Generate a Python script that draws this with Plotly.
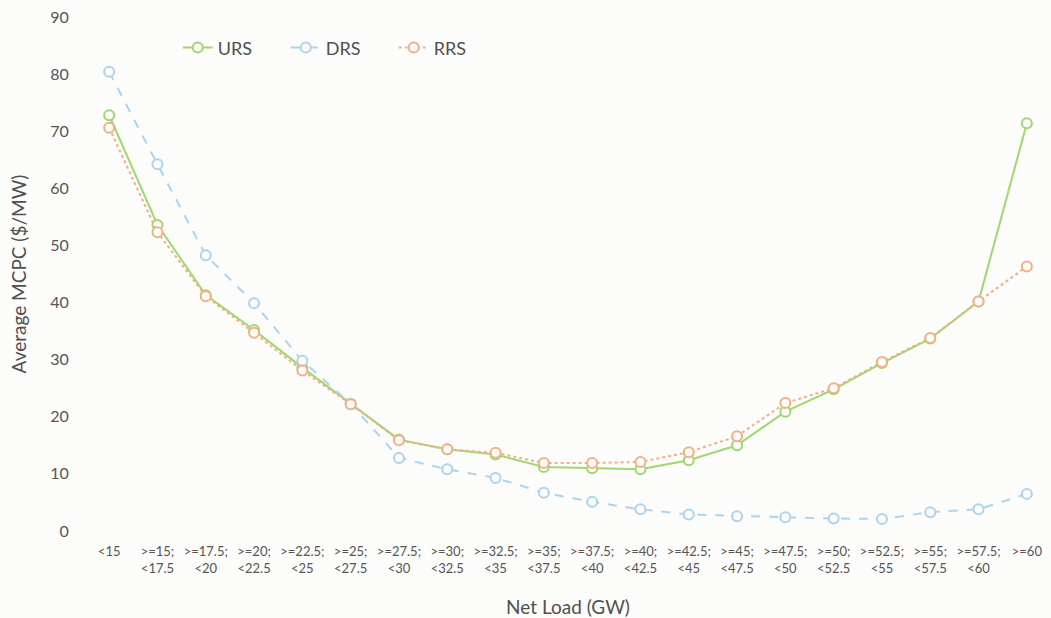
import plotly.graph_objects as go

categories = ["&lt;15", "&gt;=15;<br>&lt;17.5", "&gt;=17.5;<br>&lt;20", "&gt;=20;<br>&lt;22.5",
              "&gt;=22.5;<br>&lt;25", "&gt;=25;<br>&lt;27.5", "&gt;=27.5;<br>&lt;30", "&gt;=30;<br>&lt;32.5",
              "&gt;=32.5;<br>&lt;35", "&gt;=35;<br>&lt;37.5", "&gt;=37.5;<br>&lt;40", "&gt;=40;<br>&lt;42.5",
              "&gt;=42.5;<br>&lt;45", "&gt;=45;<br>&lt;47.5", "&gt;=47.5;<br>&lt;50", "&gt;=50;<br>&lt;52.5",
              "&gt;=52.5;<br>&lt;55", "&gt;=55;<br>&lt;57.5", "&gt;=57.5;<br>&lt;60", "&gt;=60"]

urs = [72.8, 53.6, 41.3, 35.2, 28.6, 22.3, 16.0, 14.3, 13.4, 11.2, 11.0, 10.8, 12.4, 15.0, 20.9, 24.8, 29.4, 33.7, 40.2, 71.4]
drs = [80.4, 64.2, 48.3, 39.9, 29.8, 22.3, 12.8, 10.8, 9.3, 6.7, 5.1, 3.8, 2.9, 2.6, 2.4, 2.2, 2.1, 3.3, 3.8, 6.5]
rrs = [70.6, 52.3, 41.1, 34.7, 28.1, 22.2, 15.9, 14.3, 13.7, 11.9, 11.9, 12.1, 13.8, 16.6, 22.4, 25.0, 29.6, 33.8, 40.2, 46.3]

y_ticks = [0, 10, 20, 30, 40, 50, 60, 70, 80, 90]

GREEN = "#9ed870"
BLUE = "#abd4ee"
ORANGE = "#f3b085"
BG = "#fcfcfa"
FONT = "Lato"
TXT = "#555555"

fig = go.Figure()
series = [("URS", urs, GREEN, "solid"), ("DRS", drs, BLUE, "dash"), ("RRS", rrs, ORANGE, "dot")]
for name, vals, col, dash in series:
    fig.add_trace(go.Scatter(
        x=categories, y=vals, name=name, mode="lines+markers",
        line=dict(color=col, width=2, dash=dash),
        marker=dict(symbol="circle", size=10, color=BG, line=dict(width=2, color=col)),
    ))

fig.update_layout(
    width=1051, height=618,
    paper_bgcolor=BG, plot_bgcolor=BG,
    margin=dict(l=85, r=0, t=17, b=87),
    font=dict(family=FONT, color=TXT),
    showlegend=True,
    legend=dict(orientation="h", x=0.096, y=0.94, xanchor="left", yanchor="middle",
                font=dict(size=18, color="#505050"), bgcolor="rgba(0,0,0,0)",
                entrywidth=63, entrywidthmode="pixels"),
)
fig.update_xaxes(
    type="category", range=[-0.5, 19.5], showgrid=False, zeroline=False, showline=False,
    ticks="outside", ticklen=8, tickcolor="rgba(0,0,0,0)",
    tickfont=dict(size=13, color=TXT, family=FONT), tickangle=0,
    title=dict(text="Net Load (GW)", font=dict(size=19, color="#505050", family=FONT), standoff=27),
)
fig.update_yaxes(
    range=[0, 90], tickvals=y_ticks, showgrid=False, zeroline=False, showline=False,
    ticks="outside", ticklen=12, tickcolor="rgba(0,0,0,0)",
    tickfont=dict(size=16, color=TXT, family=FONT),
    title=dict(text="Average MCPC ($/MW)", font=dict(size=19, color="#505050", family=FONT), standoff=18),
)

fig.write_html("out.html", config={"displayModeBar": False},
               post_script="document.body.style.margin='0px';document.body.style.background='%s';" % BG)
